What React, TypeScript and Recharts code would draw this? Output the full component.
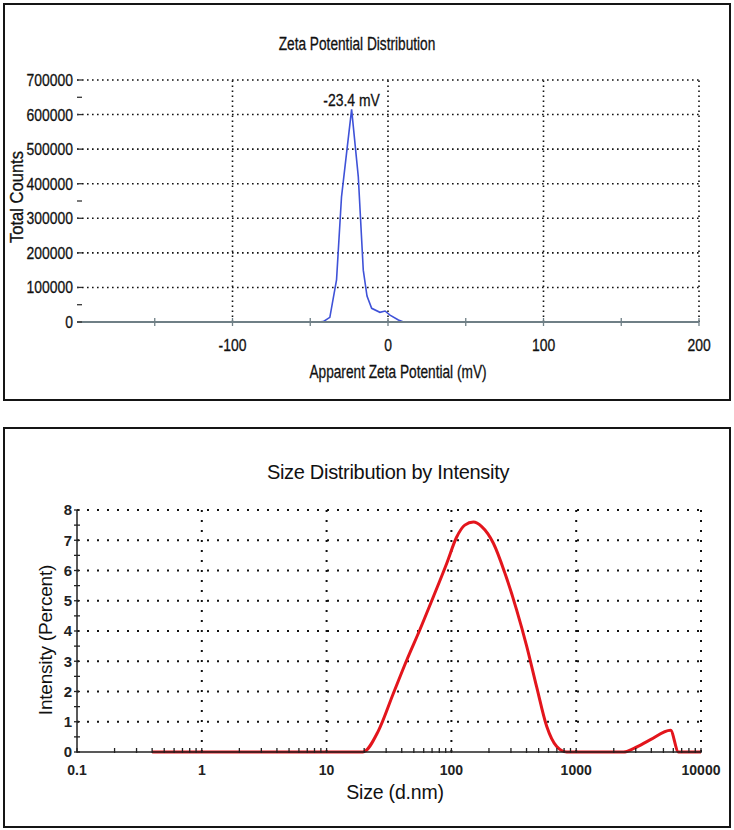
import React from 'react';
import { LineChart, Line, XAxis, YAxis, ReferenceLine, ReferenceDot } from 'recharts';

// ---------- Zeta potential data ----------
const zetaMv = [-150, -45, -41.7, -37.4, -33.1, -29.9, -23.4, -19.1, -15.9, -13.5, -10.5, -5.2, -1.9, 1.3, 6.7, 10, 150];
const zetaCounts = [0, 0, 1000, 13600, 121500, 362000, 615000, 420000, 150000, 75000, 39500, 28000, 31800, 20000, 5800, 0, 0];
const zetaXTicks = [-150, -100, -50, 0, 50, 100, 150, 200];
const zetaXLabels = [-100, 0, 100, 200];
const zetaYTicks = [0, 50000, 100000, 200000, 300000, 350000, 400000, 500000, 600000, 650000, 700000];
const zetaYLabels = [0, 100000, 200000, 300000, 400000, 500000, 600000, 700000];
const zetaYGrid = [100000, 200000, 300000, 400000, 500000, 600000, 700000];
const zetaXGrid = [-100, 0, 100, 200];
const zetaPeak = { mv: -23.4, counts: 615000, label: '-23.4 mV' };

// ---------- Size distribution data ----------
const sizeNm = [0.4, 19.5, 26, 34, 44, 56, 72, 92, 110, 128, 150, 175, 217, 269, 333, 401, 482, 580, 698, 840, 2400, 2900, 3900, 5700, 6600, 10000];
const intensityPct = [0, 0, 0.7, 1.9, 3.05, 4.05, 5.15, 6.25, 7.1, 7.5, 7.6, 7.45, 6.9, 5.9, 4.7, 3.5, 2.15, 0.85, 0.18, 0, 0, 0.12, 0.4, 0.72, 0, 0];
const sizeDecades = [0.1, 1, 10, 100, 1000, 10000];
const sizeMinorMultipliers = [2, 3, 4, 5, 6, 7, 8, 9];
const sizeYTicks = [0, 0.5, 1, 1.5, 2, 2.5, 3, 3.5, 4, 4.5, 5, 5.5, 6, 6.5, 7, 7.5, 8];
const sizeYGrid = [1, 2, 3, 4, 5, 6, 7, 8];
const sizeXGrid = [1, 10, 100, 1000, 10000];

const zetaData = zetaMv.map((x, i) => ({ x, y: zetaCounts[i] }));
const sizeData = sizeNm.map((x, i) => ({ x, y: intensityPct[i] }));
const sizeXTicks = [
  ...sizeDecades,
  ...sizeDecades.slice(0, -1).flatMap((d) => sizeMinorMultipliers.map((m) => d * m)),
].sort((a, b) => a - b);

const SANS = "'Liberation Sans', Arial, sans-serif";
const NARROW_SCALE = 0.82;

const NarrowText = ({ x, y, anchor, size, children }: any) => (
  <text
    transform={`translate(${x},${y}) scale(${NARROW_SCALE},1)`}
    x={0}
    y={0}
    textAnchor={anchor}
    fontFamily={SANS}
    fontSize={size}
    fill="#111"
    stroke="#111"
    strokeWidth={0.3}
  >
    {children}
  </text>
);

const ZetaYTick = (props: any) => {
  const { x, y, payload } = props;
  const ax = x + 5;
  const labeled = zetaYLabels.includes(payload.value);
  return (
    <g>
      <line x1={ax} x2={ax + 5} y1={y} y2={y} stroke="#333" strokeWidth={1.3} />
      {labeled && (
        <NarrowText x={ax - 4} y={y + 6} anchor="end" size={17}>
          {payload.value}
        </NarrowText>
      )}
    </g>
  );
};

const ZetaXTick = (props: any) => {
  const { x, y, payload } = props;
  const ay = y - 8;
  const labeled = zetaXLabels.includes(payload.value);
  return (
    <g>
      <line x1={x} x2={x} y1={ay - 4} y2={ay + 4} stroke="#6f7f86" strokeWidth={1.3} />
      {labeled && (
        <NarrowText x={x} y={ay + 29} anchor="middle" size={17}>
          {payload.value}
        </NarrowText>
      )}
    </g>
  );
};

const PeakLabel = (props: any) => {
  const vb = props.viewBox || {};
  const cx = (vb.x || 0) + (vb.width || 0) / 2;
  const cy = vb.y || 0;
  return (
    <NarrowText x={cx} y={cy - 3} anchor="middle" size={17}>
      {zetaPeak.label}
    </NarrowText>
  );
};

const SizeYTick = (props: any) => {
  const { x, y, payload } = props;
  const ax = x + 5;
  const labeled = Number.isInteger(payload.value);
  return (
    <g>
      <line x1={ax - 3} x2={ax + 3} y1={y} y2={y} stroke="#222" strokeWidth={1.3} />
      {labeled && (
        <text x={ax - 5} y={y} dy="0.36em" textAnchor="end" fontFamily={SANS} fontWeight="bold" fontSize={15} fill="#222">
          {payload.value}
        </text>
      )}
    </g>
  );
};

const SizeXTick = (props: any) => {
  const { x, y, payload } = props;
  const ay = y - 8;
  const labeled = sizeDecades.includes(payload.value);
  return (
    <g>
      <line x1={x} x2={x} y1={ay - 4} y2={ay + 1} stroke="#222" strokeWidth={1.3} />
      {labeled && (
        <text x={x} y={ay + 23} textAnchor="middle" fontFamily={SANS} fontWeight="bold" fontSize={14} fill="#222">
          {payload.value}
        </text>
      )}
    </g>
  );
};

const box = (top: number, height: number): React.CSSProperties => ({
  position: 'absolute',
  left: 3,
  top,
  width: 728,
  height,
  border: '2px solid #151515',
  boxSizing: 'border-box',
});

const txt = (
  left: number,
  top: number,
  size: number,
  rotate = 0,
  scaleX = 1,
  extra: React.CSSProperties = {}
): React.CSSProperties => ({
  position: 'absolute',
  left,
  top,
  transform: `translate(-50%, -50%) rotate(${rotate}deg) scaleX(${scaleX})`,
  fontSize: size,
  fontFamily: SANS,
  lineHeight: 1,
  whiteSpace: 'nowrap',
  color: '#111',
  ...extra,
});

const narrowExtra: React.CSSProperties = { WebkitTextStroke: '0.3px #111' };

export default function App() {
  return (
    <div style={{ position: 'absolute', left: 0, top: 0, width: 734, height: 830, background: '#fff' }}>
      <div style={box(3, 398)} />
      <div style={box(427, 401)} />

      <div style={{ position: 'absolute', left: 0, top: 0 }}>
        <LineChart width={734} height={401} data={zetaData} margin={{ top: 80, right: 35, bottom: 49, left: 0 }}>
          <XAxis
            type="number"
            dataKey="x"
            domain={[-200, 200]}
            ticks={zetaXTicks}
            interval={0}
            allowDataOverflow
            height={30}
            tickSize={0}
            tickMargin={8}
            axisLine={{ stroke: '#6f7f86', strokeWidth: 2 }}
            tick={<ZetaXTick />}
          />
          <YAxis
            type="number"
            domain={[0, 700000]}
            ticks={zetaYTicks}
            interval={0}
            width={77}
            axisLine={false}
            tickSize={0}
            tickMargin={5}
            tick={<ZetaYTick />}
          />
          {zetaYGrid.map((v) => (
            <ReferenceLine key={'zh' + v} y={v} stroke="#111" strokeWidth={1.6} strokeDasharray="1.6 3.4" />
          ))}
          {zetaXGrid.map((v) => (
            <ReferenceLine key={'zv' + v} x={v} stroke="#111" strokeWidth={1.6} strokeDasharray="1.6 3.4" />
          ))}
          <Line type="linear" dataKey="y" stroke="#3f52d8" strokeWidth={1.6} dot={false} isAnimationActive={false} />
          <ReferenceDot
            x={zetaPeak.mv}
            y={zetaPeak.counts}
            r={0}
            stroke="none"
            fill="none"
            label={<PeakLabel />}
          />
        </LineChart>
      </div>

      <div style={{ position: 'absolute', left: 0, top: 427 }}>
        <LineChart width={734} height={403} data={sizeData} margin={{ top: 83, right: 33, bottom: 48, left: 0 }}>
          <XAxis
            type="number"
            dataKey="x"
            scale="log"
            domain={[0.1, 10000]}
            ticks={sizeXTicks}
            interval={0}
            allowDataOverflow
            height={30}
            tickSize={0}
            tickMargin={8}
            axisLine={{ stroke: '#222', strokeWidth: 1.5 }}
            tick={<SizeXTick />}
          />
          <YAxis
            type="number"
            domain={[0, 8]}
            ticks={sizeYTicks}
            interval={0}
            width={77}
            axisLine={{ stroke: '#222', strokeWidth: 1.5 }}
            tickSize={0}
            tickMargin={5}
            tick={<SizeYTick />}
          />
          {sizeYGrid.map((v) => (
            <ReferenceLine key={'sh' + v} y={v} stroke="#111" strokeWidth={2} strokeDasharray="2 8" />
          ))}
          {sizeXGrid.map((v) => (
            <ReferenceLine key={'sv' + v} x={v} stroke="#111" strokeWidth={2} strokeDasharray="2 8" />
          ))}
          <Line type="monotone" dataKey="y" stroke="#e3151c" strokeWidth={3} dot={false} isAnimationActive={false} />
        </LineChart>
      </div>

      <div style={txt(357, 44, 18, 0, 0.76, narrowExtra)}>Zeta Potential Distribution</div>
      <div style={txt(16, 197, 19, -90, 0.87, narrowExtra)}>Total Counts</div>
      <div style={txt(398, 372, 18, 0, 0.76, narrowExtra)}>Apparent Zeta Potential (mV)</div>

      <div style={txt(388, 472, 20, 0, 1, { letterSpacing: -0.3 })}>Size Distribution by Intensity</div>
      <div style={txt(45, 640, 19, -90, 1, { letterSpacing: -0.2 })}>Intensity (Percent)</div>
      <div style={txt(395, 793, 19.5, 0, 1, { letterSpacing: -0.2 })}>Size (d.nm)</div>
    </div>
  );
}
